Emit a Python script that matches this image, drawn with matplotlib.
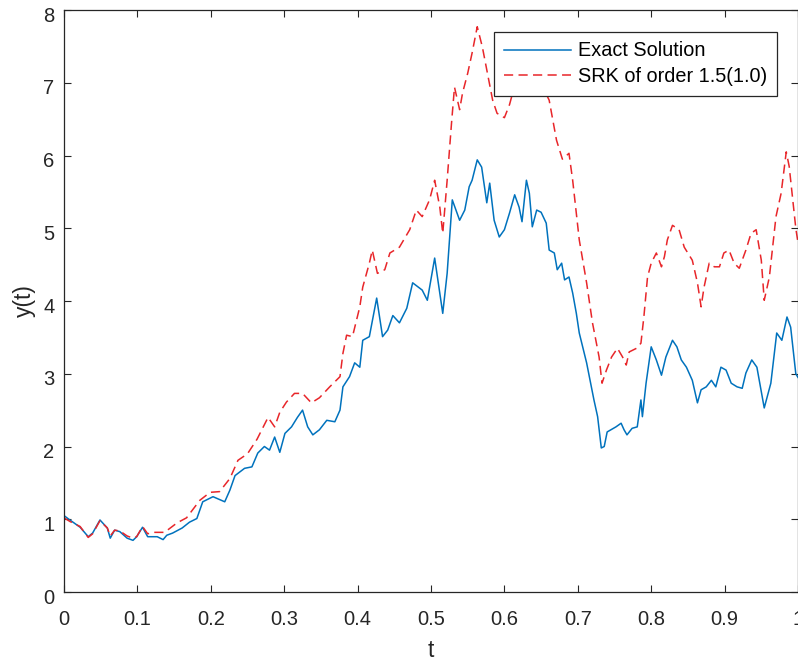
import numpy as np
import matplotlib
matplotlib.use("Agg")
import matplotlib.pyplot as plt
import matplotlib.transforms as mtransforms

## values

## exact solution
t_exact = [0.0, 0.008, 0.022, 0.033, 0.039, 0.049, 0.059, 0.063, 0.069, 0.076,
           0.086, 0.094, 0.099, 0.107, 0.114, 0.127, 0.135, 0.140, 0.148, 0.161,
           0.171, 0.181, 0.189, 0.203, 0.212, 0.219, 0.226, 0.233, 0.246, 0.256,
           0.264, 0.273, 0.280, 0.287, 0.294, 0.301, 0.310, 0.318, 0.325, 0.332,
           0.339, 0.348, 0.358, 0.369, 0.376, 0.380, 0.389, 0.396, 0.403, 0.407,
           0.416, 0.426, 0.434, 0.441, 0.448, 0.457, 0.467, 0.475, 0.488, 0.495,
           0.505, 0.516, 0.522, 0.529, 0.539, 0.546, 0.552, 0.556, 0.563, 0.569,
           0.576, 0.580, 0.586, 0.593, 0.600, 0.607, 0.614, 0.620, 0.624, 0.630,
           0.634, 0.638, 0.644, 0.650, 0.657, 0.661, 0.668, 0.672, 0.678, 0.682,
           0.688, 0.693, 0.698, 0.702, 0.712, 0.722, 0.727, 0.732, 0.736, 0.740,
           0.752, 0.759, 0.763, 0.767, 0.774, 0.781, 0.786, 0.788, 0.793, 0.800,
           0.807, 0.814, 0.820, 0.829, 0.835, 0.841, 0.848, 0.856, 0.863, 0.868,
           0.875, 0.882, 0.888, 0.895, 0.902, 0.909, 0.917, 0.924, 0.929, 0.937,
           0.944, 0.954, 0.963, 0.971, 0.978, 0.985, 0.990, 0.997, 1.0]
y_exact = [1.05, 0.99, 0.89, 0.76, 0.81, 0.99, 0.88, 0.74, 0.85, 0.83,
           0.74, 0.71, 0.76, 0.89, 0.76, 0.76, 0.72, 0.78, 0.81, 0.88,
           0.96, 1.01, 1.24, 1.31, 1.27, 1.24, 1.40, 1.60, 1.70, 1.72,
           1.91, 2.00, 1.95, 2.13, 1.92, 2.18, 2.27, 2.40, 2.50, 2.27,
           2.16, 2.23, 2.36, 2.34, 2.50, 2.82, 2.96, 3.15, 3.09, 3.46,
           3.51, 4.04, 3.51, 3.60, 3.80, 3.70, 3.90, 4.25, 4.15, 4.01,
           4.59, 3.83, 4.38, 5.39, 5.11, 5.25, 5.57, 5.66, 5.94, 5.84,
           5.35, 5.62, 5.11, 4.88, 4.98, 5.21, 5.46, 5.29, 5.09, 5.66,
           5.48, 5.02, 5.25, 5.22, 5.07, 4.70, 4.66, 4.43, 4.52, 4.29,
           4.33, 4.11, 3.83, 3.56, 3.15, 2.64, 2.41, 1.98, 2.00, 2.20,
           2.27, 2.32, 2.23, 2.16, 2.25, 2.27, 2.64, 2.41, 2.87, 3.37,
           3.19, 2.98, 3.23, 3.46, 3.37, 3.19, 3.09, 2.91, 2.60, 2.78,
           2.82, 2.91, 2.82, 3.09, 3.05, 2.87, 2.82, 2.80, 3.01, 3.19,
           3.09, 2.53, 2.87, 3.56, 3.46, 3.78, 3.64, 3.00, 2.95]

## SRK scheme
t_srk = [0.0, 0.008, 0.022, 0.033, 0.039, 0.049, 0.059, 0.063, 0.069, 0.076,
         0.086, 0.094, 0.099, 0.107, 0.114, 0.121, 0.137, 0.154, 0.167, 0.185,
         0.199, 0.212, 0.226, 0.237, 0.250, 0.263, 0.278, 0.287, 0.294, 0.303,
         0.314, 0.325, 0.337, 0.348, 0.362, 0.376, 0.380, 0.385, 0.393, 0.403,
         0.407, 0.416, 0.420, 0.427, 0.437, 0.444, 0.457, 0.471, 0.480, 0.488,
         0.498, 0.505, 0.512, 0.516, 0.522, 0.528, 0.532, 0.539, 0.543, 0.550,
         0.556, 0.563, 0.570, 0.584, 0.590, 0.600, 0.607, 0.615, 0.625, 0.635,
         0.645, 0.652, 0.661, 0.671, 0.679, 0.688, 0.693, 0.702, 0.712, 0.720,
         0.729, 0.733, 0.739, 0.746, 0.754, 0.761, 0.766, 0.770, 0.780, 0.786,
         0.790, 0.795, 0.800, 0.807, 0.814, 0.818, 0.822, 0.829, 0.838, 0.845,
         0.856, 0.863, 0.868, 0.872, 0.879, 0.886, 0.893, 0.899, 0.906, 0.913,
         0.920, 0.929, 0.936, 0.943, 0.950, 0.954, 0.961, 0.970, 0.977, 0.984,
         0.988, 0.997, 1.0]
y_srk = [1.02, 0.97, 0.90, 0.75, 0.80, 0.98, 0.88, 0.77, 0.85, 0.84,
         0.77, 0.74, 0.76, 0.90, 0.80, 0.82, 0.82, 0.95, 1.02, 1.26,
         1.37, 1.38, 1.56, 1.81, 1.90, 2.10, 2.40, 2.27, 2.47, 2.61,
         2.73, 2.73, 2.60, 2.67, 2.82, 2.96, 3.28, 3.53, 3.51, 3.92,
         4.19, 4.52, 4.70, 4.38, 4.43, 4.66, 4.74, 4.98, 5.25, 5.16,
         5.39, 5.66, 5.29, 4.93, 5.66, 6.45, 6.94, 6.63, 6.86, 7.13,
         7.41, 7.77, 7.49, 6.76, 6.58, 6.52, 6.70, 7.00, 7.30, 7.10,
         7.20, 6.95, 6.76, 6.21, 5.95, 6.03, 5.66, 4.84, 4.25, 3.70,
         3.23, 2.87, 3.05, 3.23, 3.35, 3.23, 3.12, 3.30, 3.35, 3.42,
         3.78, 4.33, 4.52, 4.66, 4.47, 4.61, 4.84, 5.04, 4.98, 4.74,
         4.56, 4.25, 3.92, 4.19, 4.52, 4.47, 4.47, 4.66, 4.70, 4.52,
         4.45, 4.70, 4.93, 4.98, 4.56, 4.01, 4.33, 5.16, 5.48, 6.05,
         5.85, 5.00, 4.80]

x_ticks = [0, 0.1, 0.2, 0.3, 0.4, 0.5, 0.6, 0.7, 0.8, 0.9, 1]
x_ticklabels = ["0", "0.1", "0.2", "0.3", "0.4", "0.5", "0.6", "0.7", "0.8", "0.9", "1"]
y_ticks = [0, 1, 2, 3, 4, 5, 6, 7, 8]

plt.rcParams['font.family'] = ['Liberation Sans', 'DejaVu Sans']

fig = plt.figure(figsize=(7.98, 6.63), dpi=100)
ax = fig.add_axes([64/798, 71/663, 734/798, 582/663])

ax.plot(t_exact, y_exact, color='#0072BD', lw=1.1, label='Exact Solution')
ax.plot(t_srk, y_srk, color='#E8262A', lw=1.1, dashes=(6, 3.5), label='SRK of order 1.5(1.0)')

ax.set_xlim(0, 1)
ax.set_ylim(0, 8)
ax.set_xticks(x_ticks)
ax.set_xticklabels(x_ticklabels)
ax.set_yticks(y_ticks)
ax.tick_params(direction='in', length=5, width=0.8, top=True, right=True,
               labelsize=14.5, colors='#262626')
ax.tick_params(axis='x', pad=13)
ax.tick_params(axis='y', pad=7)
for s in ax.spines.values():
    s.set_color('#262626')
    s.set_linewidth(0.9)

# matlab puts the y tick labels a little under the tick
shift = mtransforms.ScaledTranslation(0, -3/72, fig.dpi_scale_trans)
for lab in ax.get_yticklabels():
    lab.set_transform(lab.get_transform() + shift)

ax.set_xlabel('t', fontsize=16.5, color='#262626', labelpad=7)
ax.set_ylabel('y(t)', fontsize=16.5, color='#262626', labelpad=5)

leg = ax.legend(loc='upper right', bbox_to_anchor=(0.972, 0.963), borderaxespad=0,
                fontsize=14.3, frameon=True, fancybox=False, framealpha=1,
                edgecolor='#262626', handlelength=3.4, handletextpad=0.35,
                borderpad=0.5, labelspacing=0.35)
leg.get_frame().set_linewidth(0.9)

fig.savefig('out.png', dpi=100)
